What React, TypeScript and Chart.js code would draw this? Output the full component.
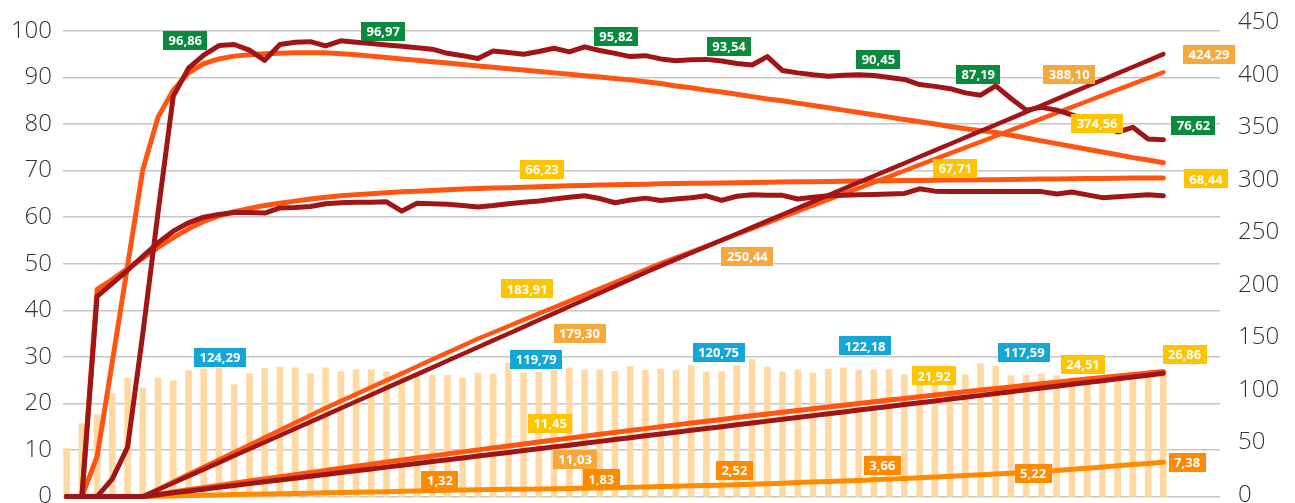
import React, { useEffect, useRef } from "react";
import { Chart, registerables } from "chart.js";

Chart.register(...registerables);

// ---- data ----
const dayIndex = [
  0, 1, 2, 3, 4, 5, 6, 7, 8, 9, 10, 11, 12, 13, 14, 15, 16, 17, 18, 19, 20, 21, 22, 23, 24,
  25, 26, 27, 28, 29, 30, 31, 32, 33, 34, 35, 36, 37, 38, 39, 40, 41, 42, 43, 44, 45, 46, 47,
  48, 49, 50, 51, 52, 53, 54, 55, 56, 57, 58, 59, 60, 61, 62, 63, 64, 65, 66, 67, 68, 69, 70,
  71, 72,
];

// light bars (right axis)
const dailyBars = [
  46.3, 70.5, 79.2, 99.5, 114.6, 105.0, 114.6, 112.0, 121.7, 123.5,
  124.29, 108.1, 118.8, 123.6, 125.2, 124.3, 118.8, 124.3, 121.0, 122.6,
  122.6, 120.4, 121.7, 119.4, 117.1, 117.1, 114.6, 119.4, 118.5, 129.1,
  119.4, 119.79, 122.6, 124.3, 122.6, 122.6, 121.0, 125.8, 122.0, 123.3,
  121.7, 126.5, 120.4, 120.75, 126.5, 132.3, 125.2, 120.4, 122.6, 119.4,
  123.3, 124.3, 122.18, 122.6, 122.6, 117.8, 118.0, 121.0, 124.0, 117.8,
  128.4, 125.8, 116.8, 117.59, 118.8, 116.8, 114.6, 113.6, 113.6, 113.6,
  113.6, 116.8, 121.0,
];

// left axis series
const rateA = [
  0, 0, 0, 3.8, 10.6, 35, 61, 86, 92, 94.8,
  96.86, 97.1, 95.9, 93.7, 97.1, 97.6, 97.7, 96.8, 97.9, 97.6,
  97.3, 96.97, 96.7, 96.4, 96.1, 95.2, 94.7, 94.1, 95.7, 95.4,
  95.0, 95.6, 96.3, 95.5, 96.6, 95.82, 95.2, 94.5, 94.7, 94.0,
  93.6, 93.8, 93.9, 93.54, 93.0, 92.7, 94.5, 91.5, 91.0, 90.6,
  90.3, 90.5, 90.6, 90.45, 90.0, 89.6, 88.5, 88.1, 87.6, 86.7,
  86.2, 88.2, 85.5, 83.0, 83.6, 83.0, 82.0, 81.0, 79.5, 78.3,
  79.3, 76.8, 76.62,
];
const rateB = [
  0, 0, 8.6, 29, 49.6, 70.2, 81.5, 87.3, 91, 93,
  94, 94.6, 94.9, 95.1, 95.2, 95.3, 95.3, 95.3, 95.1, 94.9,
  94.6, 94.3, 94.0, 93.7, 93.4, 93.1, 92.8, 92.5, 92.2, 91.9,
  91.6, 91.3, 91.0, 90.7, 90.4, 90.1, 89.8, 89.5, 89.1, 88.7,
  88.2, 87.8, 87.3, 86.9, 86.4, 85.9, 85.4, 85.0, 84.5, 84.0,
  83.5, 83.0, 82.5, 82.0, 81.5, 81.0, 80.5, 80.0, 79.5, 79.0,
  78.6, 78.2, 77.6, 77.0, 76.4, 75.8, 75.2, 74.6, 74.0, 73.4,
  72.8, 72.3, 71.7,
];
const rateC = [
  0, 0, 43.0, 45.8, 48.6, 51.6, 54.5, 57.0, 58.8, 60.0,
  60.6, 61.0, 61.0, 60.9, 62.0, 62.1, 62.3, 62.9, 63.1, 63.2,
  63.2, 63.3, 61.3, 63.0, 62.9, 62.8, 62.5, 62.2, 62.5, 62.9,
  63.2, 63.5, 63.9, 64.3, 64.6, 64.0, 63.1, 63.7, 64.1, 63.6,
  63.9, 64.2, 64.6, 63.6, 64.5, 64.8, 64.7, 64.7, 63.9, 64.3,
  64.6, 64.7, 64.8, 64.9, 65.0, 65.1, 66.1, 65.6, 65.5, 65.5,
  65.5, 65.5, 65.5, 65.5, 65.5, 65.0, 65.4, 64.8, 64.2, 64.4,
  64.6, 64.8, 64.6,
];
const rateD = [
  0, 0, 44.5, 46.6, 49.0, 51.2, 53.5, 55.6, 57.5, 59.1,
  60.3, 61.2, 61.9, 62.5, 63.0, 63.45, 63.9, 64.3, 64.6, 64.85,
  65.05, 65.25, 65.45, 65.6, 65.75, 65.9, 66.05, 66.15, 66.25, 66.35,
  66.45, 66.55, 66.65, 66.75, 66.82, 66.9, 66.97, 67.04, 67.1, 67.16,
  67.22, 67.27, 67.32, 67.37, 67.42, 67.47, 67.52, 67.56, 67.6, 67.64,
  67.68, 67.72, 67.76, 67.8, 67.84, 67.88, 67.91, 67.94, 67.97, 68.0,
  68.03, 68.06, 68.1, 68.14, 68.18, 68.22, 68.26, 68.3, 68.34, 68.38,
  68.41, 68.43, 68.44,
];
const shareG = [
  0, 0, 0, 0, 0, 0, 0.40, 0.79, 1.19, 1.58,
  1.98, 2.37, 2.77, 3.16, 3.56, 3.95, 4.35, 4.74, 5.14, 5.53,
  5.93, 6.32, 6.72, 7.11, 7.51, 7.90, 8.30, 8.69, 9.09, 9.48,
  9.88, 10.27, 10.67, 11.03, 11.46, 11.85, 12.25, 12.64, 13.04, 13.43,
  13.83, 14.22, 14.62, 15.01, 15.41, 15.80, 16.20, 16.59, 16.99, 17.38,
  17.78, 18.17, 18.57, 18.96, 19.36, 19.75, 20.15, 20.54, 20.94, 21.33,
  21.73, 22.12, 22.52, 22.91, 23.31, 23.70, 24.10, 24.49, 24.89, 25.28,
  25.68, 26.07, 26.47,
];
const shareH = [
  0, 0, 0, 0, 0, 0, 0.48, 0.96, 1.44, 1.91,
  2.38, 2.85, 3.32, 3.78, 4.24, 4.70, 5.16, 5.61, 6.06, 6.51,
  6.96, 7.40, 7.85, 8.29, 8.72, 9.16, 9.59, 10.02, 10.45, 10.87,
  11.30, 11.72, 12.13, 12.55, 12.96, 13.37, 13.78, 14.19, 14.59, 14.99,
  15.39, 15.79, 16.18, 16.57, 16.96, 17.35, 17.73, 18.11, 18.49, 18.87,
  19.24, 19.62, 19.99, 20.35, 20.72, 21.08, 21.44, 21.80, 22.15, 22.51,
  22.86, 23.20, 23.55, 23.89, 24.23, 24.57, 24.91, 25.24, 25.57, 25.90,
  26.23, 26.55, 26.86,
];
const shareI = [
  0, 0, 0, 0, 0, 0, 0.07, 0.14, 0.21, 0.28,
  0.35, 0.42, 0.49, 0.55, 0.61, 0.67, 0.73, 0.79, 0.85, 0.90,
  0.96, 1.02, 1.12, 1.2, 1.28, 1.34, 1.39, 1.44, 1.49, 1.54,
  1.59, 1.64, 1.69, 1.74, 1.79, 1.83, 1.9, 1.97, 2.05, 2.13,
  2.21, 2.29, 2.37, 2.45, 2.54, 2.65, 2.76, 2.87, 2.99, 3.1,
  3.22, 3.34, 3.46, 3.6, 3.74, 3.89, 4.04, 4.2, 4.36, 4.52,
  4.68, 4.84, 5.0, 5.15, 5.35, 5.6, 5.85, 6.1, 6.35, 6.6,
  6.86, 7.12, 7.38,
];

// right axis cumulative series
const cumE = [
  0, 0, 0, 0, 0, 0, 6.6, 13.1, 19.7, 26.2,
  32.8, 39.4, 45.9, 52.5, 59.0, 65.6, 72.2, 78.7, 85.3, 91.8,
  98.4, 105.0, 111.5, 118.1, 124.6, 131.2, 137.8, 144.3, 150.9, 157.4,
  164.0, 170.6, 177.1, 183.7, 190.2, 196.8, 203.4, 209.9, 216.5, 223.0,
  229.2, 235.4, 241.6, 247.8, 254.0, 260.2, 266.4, 272.6, 278.8, 285.0,
  291.2, 297.4, 303.6, 309.8, 316.0, 322.2, 328.4, 334.6, 340.8, 347.0,
  353.2, 359.4, 365.6, 371.8, 378.0, 384.2, 390.4, 396.6, 402.8, 409.0,
  415.2, 421.4, 427.6,
];
const cumF = [
  0, 0, 0, 0, 0, 0, 7.1, 14.3, 21.4, 28.5,
  35.6, 42.8, 49.9, 57.0, 64.1, 71.3, 78.4, 85.5, 92.2, 98.9,
  105.6, 112.3, 119.0, 125.7, 132.4, 139.1, 145.8, 152.5, 158.6, 164.6,
  170.7, 176.8, 182.9, 188.9, 195.0, 201.1, 207.1, 213.2, 219.3, 225.3,
  230.9, 236.5, 242.1, 247.7, 253.3, 258.9, 264.5, 270.1, 275.7, 281.3,
  286.9, 292.5, 298.1, 303.7, 309.3, 314.9, 320.5, 326.1, 331.7, 337.3,
  342.9, 348.5, 354.1, 359.7, 365.3, 370.9, 376.5, 382.1, 387.7, 393.3,
  398.9, 404.5, 410.1,
];

const leftTicks = [0, 10, 20, 30, 40, 50, 60, 70, 80, 90, 100];
const rightTicks = [0, 50, 100, 150, 200, 250, 300, 350, 400, 450];

// value labels: [text, day index, left-axis value]
type Lbl = [string, number, number];
const greenLabels: Lbl[] = [
  ["96,86", 7.79, 97.96],
  ["96,97", 20.78, 99.96],
  ["95,82", 36.07, 98.78],
  ["93,54", 43.49, 96.63],
  ["90,45", 53.29, 93.88],
  ["87,19", 59.85, 90.72],
  ["76,62", 73.98, 79.7],
];
const orangeLabels: Lbl[] = [
  ["179,30", 33.67, 35.06],
  ["250,44", 44.69, 51.51],
  ["388,10", 65.82, 90.61],
  ["424,29", 75.0, 94.95],
  ["11,03", 33.38, 8.01],
];
const yellowLabels: Lbl[] = [
  ["183,91", 30.24, 44.62],
  ["374,56", 67.65, 80.17],
  ["66,23", 31.21, 70.31],
  ["67,71", 58.33, 70.4],
  ["68,44", 74.8, 68.21],
  ["11,45", 31.74, 15.64],
  ["21,92", 56.94, 25.93],
  ["24,51", 66.73, 28.42],
  ["26,86", 73.39, 30.5],
];
const amberLabels: Lbl[] = [
  ["1,32", 24.51, 3.54],
  ["1,83", 35.1, 3.8],
  ["2,52", 43.84, 5.69],
  ["3,66", 53.55, 6.66],
  ["5,22", 63.45, 4.9],
  ["7,38", 73.56, 7.3],
];
const blueLabels: Lbl[] = [
  ["124,29", 10.06, 29.86],
  ["119,79", 30.83, 29.5],
  ["120,75", 42.8, 30.93],
  ["122,18", 52.42, 32.37],
  ["117,59", 62.87, 30.93],
];

// ---- styles ----
const DARK_RED = "#A01616";
const ORANGE_RED = "#FF5512";
const AMBER = "#FF8C00";
const BAR = "#FFD9A3";
const labelGroups = [
  { color: "#0B8A3E", items: greenLabels },
  { color: "#F5A83C", items: orangeLabels },
  { color: "#FFC400", items: yellowLabels },
  { color: "#FF8A00", items: amberLabels },
  { color: "#13A6D6", items: blueLabels },
];

const boxLabelPlugin = {
  id: "boxLabels",
  afterDatasetsDraw(chart: any) {
    const { ctx, scales } = chart;
    const xs = scales.x;
    const ys = scales.yL;
    ctx.save();
    ctx.font = '700 13px "Open Sans", sans-serif';
    ctx.textAlign = "center";
    ctx.textBaseline = "middle";
    for (const g of labelGroups) {
      for (const [text, xv, yv] of g.items) {
        const cx = xs.getPixelForValue(xv);
        const cy = ys.getPixelForValue(yv);
        const w = Math.round(ctx.measureText(text).width + 11);
        const h = 19;
        ctx.fillStyle = g.color;
        ctx.fillRect(Math.round(cx - w / 2), Math.round(cy - h / 2), w, h);
        ctx.fillStyle = "#ffffff";
        ctx.fillText(text, cx, cy + 1);
      }
    }
    ctx.restore();
  },
};

const tickFont = { family: '"Open Sans", sans-serif', size: 24, weight: "300" as any };

function lineSet(data: number[], color: string, axis: string, order: number, width = 5) {
  return {
    type: "line" as const,
    data,
    yAxisID: axis,
    borderColor: color,
    backgroundColor: color,
    borderWidth: width,
    pointRadius: 0,
    pointHoverRadius: 0,
    fill: false,
    tension: 0,
    borderJoinStyle: "round" as const,
    borderCapStyle: "round" as const,
    clip: false as any,
    order,
  };
}

export default function App() {
  const ref = useRef<HTMLCanvasElement | null>(null);

  useEffect(() => {
    if (!ref.current) return;
    const chart = new Chart(ref.current, {
      type: "bar",
      data: {
        labels: dayIndex,
        datasets: [
          {
            type: "bar",
            data: dailyBars,
            yAxisID: "yR",
            backgroundColor: BAR,
            barThickness: 6,
            order: 20,
          } as any,
          lineSet(shareI, AMBER, "yL", 6, 5),
          lineSet(rateB, ORANGE_RED, "yL", 5, 5),
          lineSet(rateD, ORANGE_RED, "yL", 5, 5),
          lineSet(cumF, ORANGE_RED, "yR", 5, 4.5),
          lineSet(shareH, ORANGE_RED, "yL", 5, 5),
          lineSet(rateA, DARK_RED, "yL", 2, 5),
          lineSet(rateC, DARK_RED, "yL", 2, 5),
          lineSet(cumE, DARK_RED, "yR", 2, 4.5),
          lineSet(shareG, DARK_RED, "yL", 2, 5),
        ] as any,
      },
      options: {
        animation: false,
        responsive: true,
        maintainAspectRatio: false,
        events: [],
        layout: { padding: { top: 22, bottom: 6, left: 0, right: 0 } },
        plugins: { legend: { display: false }, tooltip: { enabled: false } },
        scales: {
          x: { type: "linear", min: -0.24, max: 75.72, offset: false, display: false },
          yL: {
            type: "linear",
            position: "left",
            min: -0.1,
            max: 101.93,
            afterBuildTicks: (s: any) => {
              s.ticks = leftTicks.map((v) => ({ value: v }));
            },
            ticks: { padding: 11, color: "#333333", font: tickFont },
            grid: { color: "#C6C6C6", lineWidth: 1.5, drawTicks: false },
            border: { display: false },
            afterFit: (s: any) => {
              s.width = 63;
              s.paddingTop = 0;
              s.paddingBottom = 0;
            },
          },
          yR: { type: "linear", display: false, min: -0.45, max: 458.69 },
          yRV: {
            type: "linear",
            position: "right",
            min: -1.9,
            max: 450.3,
            afterBuildTicks: (s: any) => {
              s.ticks = rightTicks.map((v) => ({ value: v }));
            },
            ticks: { padding: 18, color: "#333333", font: tickFont },
            grid: { display: false, drawTicks: false },
            border: { display: false },
            afterFit: (s: any) => {
              s.width = 75;
              s.paddingTop = 0;
              s.paddingBottom = 0;
            },
          },
        } as any,
      },
      plugins: [boxLabelPlugin],
    });
    return () => chart.destroy();
  }, []);

  return (
    <div style={{ position: "fixed", left: 0, top: 0, width: 1295, height: 503, background: "#fff" }}>
      <canvas ref={ref} />
    </div>
  );
}
